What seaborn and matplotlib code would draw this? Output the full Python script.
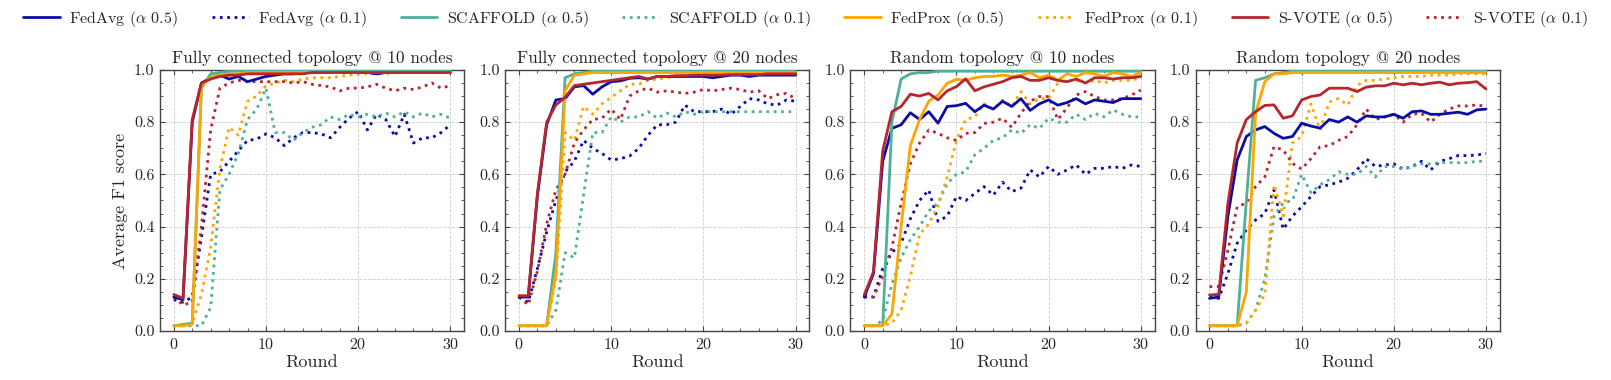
import matplotlib
matplotlib.use("Agg")
import matplotlib.pyplot as plt
from matplotlib.ticker import AutoMinorLocator, MultipleLocator
import seaborn as sns

# ---------------- data ----------------
rounds = list(range(31))

titles = ["Fully connected topology @ 10 nodes", "Fully connected topology @ 20 nodes",
          "Random topology @ 10 nodes", "Random topology @ 20 nodes"]
methods = ["FedAvg", "SCAFFOLD", "FedProx", "S-VOTE"]
alphas = ["0.5", "0.1"]

# Panel 1: fully connected, 10 nodes
fc10_fedavg_05 = [0.13, 0.12, 0.80, 0.95, 0.97, 0.98, 0.965, 0.975, 0.955, 0.965, 0.975, 0.98, 0.985, 0.985, 0.99, 0.99,
                  0.99, 0.99, 0.99, 0.99, 0.99, 0.99, 0.985, 0.99, 0.99, 0.99, 0.99, 0.99, 0.99, 0.99, 0.99]
fc10_fedavg_01 = [0.12, 0.11, 0.13, 0.36, 0.60, 0.61, 0.65, 0.69, 0.73, 0.735, 0.755, 0.74, 0.71, 0.74, 0.76, 0.76,
                  0.755, 0.74, 0.78, 0.815, 0.84, 0.77, 0.83, 0.81, 0.745, 0.83, 0.72, 0.74, 0.74, 0.76, 0.79]
fc10_scaffold_05 = [0.02, 0.025, 0.03, 0.93, 0.985, 0.99, 0.995, 0.995, 0.995, 0.995, 0.995, 0.995, 0.995, 0.995, 0.995, 0.995,
                    0.995, 0.995, 0.995, 0.995, 0.995, 0.995, 0.995, 0.995, 0.995, 0.995, 0.995, 0.995, 0.995, 0.995, 0.995]
fc10_scaffold_01 = [0.02, 0.02, 0.02, 0.02, 0.09, 0.54, 0.60, 0.68, 0.81, 0.85, 0.93, 0.76, 0.76, 0.73, 0.76, 0.78,
                    0.79, 0.82, 0.81, 0.83, 0.82, 0.83, 0.82, 0.835, 0.82, 0.84, 0.82, 0.835, 0.82, 0.83, 0.815]
fc10_fedprox_05 = [0.02, 0.02, 0.025, 0.94, 0.97, 0.98, 0.985, 0.985, 0.99, 0.99, 0.99, 0.99, 0.99, 0.99, 0.99, 0.99,
                   0.99, 0.99, 0.99, 0.99, 0.99, 0.99, 0.99, 0.99, 0.99, 0.99, 0.99, 0.99, 0.99, 0.99, 0.99]
fc10_fedprox_01 = [0.02, 0.02, 0.03, 0.14, 0.32, 0.62, 0.78, 0.75, 0.88, 0.90, 0.94, 0.95, 0.96, 0.955, 0.965, 0.97,
                   0.97, 0.97, 0.975, 0.98, 0.985, 0.985, 0.985, 0.985, 0.99, 0.99, 0.99, 0.99, 0.99, 0.99, 0.99]
fc10_svote_05 = [0.14, 0.125, 0.81, 0.95, 0.965, 0.975, 0.98, 0.98, 0.985, 0.985, 0.985, 0.985, 0.985, 0.985, 0.985, 0.99,
                 0.99, 0.99, 0.99, 0.99, 0.99, 0.99, 0.99, 0.99, 0.99, 0.99, 0.99, 0.99, 0.99, 0.99, 0.99]
fc10_svote_01 = [0.13, 0.10, 0.11, 0.40, 0.77, 0.93, 0.95, 0.96, 0.955, 0.955, 0.955, 0.955, 0.955, 0.95, 0.955, 0.945,
                 0.94, 0.935, 0.92, 0.93, 0.93, 0.935, 0.945, 0.93, 0.92, 0.93, 0.925, 0.935, 0.95, 0.93, 0.94]

# Panel 2: fully connected, 20 nodes
fc20_fedavg_05 = [0.13, 0.13, 0.52, 0.79, 0.885, 0.89, 0.935, 0.94, 0.907, 0.935, 0.955, 0.958, 0.968, 0.97, 0.965, 0.975,
                  0.975, 0.975, 0.975, 0.975, 0.975, 0.97, 0.975, 0.98, 0.98, 0.975, 0.98, 0.98, 0.98, 0.98, 0.98]
fc20_fedavg_01 = [0.13, 0.11, 0.24, 0.38, 0.50, 0.61, 0.65, 0.73, 0.70, 0.68, 0.655, 0.66, 0.67, 0.70, 0.75, 0.79,
                  0.79, 0.80, 0.865, 0.84, 0.84, 0.84, 0.85, 0.83, 0.86, 0.89, 0.885, 0.87, 0.865, 0.885, 0.88]
fc20_scaffold_05 = [0.02, 0.02, 0.02, 0.02, 0.30, 0.97, 0.985, 0.99, 0.995, 0.995, 0.995, 0.995, 0.995, 0.995, 0.995, 0.995,
                    0.995, 0.995, 0.995, 0.995, 0.995, 0.995, 0.995, 0.995, 0.995, 0.995, 0.995, 0.995, 0.995, 0.995, 0.995]
fc20_scaffold_01 = [0.02, 0.02, 0.02, 0.02, 0.08, 0.30, 0.28, 0.52, 0.76, 0.76, 0.82, 0.80, 0.82, 0.82, 0.84, 0.815,
                    0.835, 0.82, 0.84, 0.83, 0.84, 0.84, 0.84, 0.84, 0.84, 0.84, 0.84, 0.84, 0.84, 0.84, 0.84]
fc20_fedprox_05 = [0.02, 0.02, 0.02, 0.02, 0.22, 0.92, 0.98, 0.985, 0.99, 0.99, 0.99, 0.99, 0.99, 0.99, 0.99, 0.99,
                   0.99, 0.99, 0.99, 0.99, 0.99, 0.99, 0.99, 0.99, 0.99, 0.99, 0.99, 0.99, 0.99, 0.99, 0.99]
fc20_fedprox_01 = [0.02, 0.02, 0.02, 0.02, 0.20, 0.76, 0.73, 0.86, 0.83, 0.87, 0.895, 0.92, 0.945, 0.945, 0.96, 0.965,
                   0.97, 0.975, 0.98, 0.98, 0.98, 0.985, 0.985, 0.985, 0.985, 0.985, 0.985, 0.985, 0.985, 0.985, 0.985]
fc20_svote_05 = [0.135, 0.135, 0.53, 0.80, 0.866, 0.895, 0.94, 0.945, 0.95, 0.955, 0.96, 0.965, 0.97, 0.975, 0.965, 0.975,
                 0.975, 0.978, 0.978, 0.98, 0.98, 0.98, 0.98, 0.982, 0.982, 0.982, 0.982, 0.985, 0.985, 0.985, 0.985]
fc20_svote_01 = [0.13, 0.10, 0.23, 0.41, 0.54, 0.60, 0.72, 0.77, 0.81, 0.815, 0.85, 0.81, 0.90, 0.92, 0.93, 0.915,
                 0.92, 0.915, 0.91, 0.915, 0.925, 0.92, 0.925, 0.93, 0.925, 0.915, 0.92, 0.89, 0.905, 0.91, 0.89]

# Panel 3: random topology, 10 nodes
rnd10_fedavg_05 = [0.13, 0.22, 0.65, 0.776, 0.79, 0.836, 0.81, 0.84, 0.796, 0.86, 0.863, 0.872, 0.84, 0.865, 0.85, 0.88,
                   0.86, 0.89, 0.845, 0.87, 0.885, 0.865, 0.875, 0.89, 0.87, 0.885, 0.88, 0.875, 0.89, 0.89, 0.89]
rnd10_fedavg_01 = [0.13, 0.13, 0.24, 0.30, 0.336, 0.43, 0.50, 0.54, 0.42, 0.44, 0.515, 0.50, 0.527, 0.553, 0.52, 0.57,
                   0.534, 0.547, 0.617, 0.59, 0.63, 0.60, 0.617, 0.636, 0.60, 0.623, 0.623, 0.63, 0.623, 0.636, 0.63]
rnd10_scaffold_05 = [0.02, 0.02, 0.02, 0.80, 0.965, 0.985, 0.99, 0.99, 0.995, 0.995, 0.995, 0.995, 0.995, 0.995, 0.995, 0.995,
                     0.995, 0.995, 0.995, 0.995, 0.995, 0.995, 0.995, 0.995, 0.995, 0.995, 0.995, 0.995, 0.995, 0.995, 0.995]
rnd10_scaffold_01 = [0.02, 0.02, 0.04, 0.18, 0.28, 0.35, 0.40, 0.46, 0.49, 0.565, 0.60, 0.61, 0.675, 0.70, 0.73, 0.74,
                     0.77, 0.757, 0.79, 0.776, 0.815, 0.80, 0.80, 0.83, 0.81, 0.834, 0.82, 0.847, 0.83, 0.82, 0.82]
rnd10_fedprox_05 = [0.02, 0.02, 0.02, 0.065, 0.40, 0.71, 0.81, 0.88, 0.904, 0.949, 0.964, 0.96, 0.97, 0.975, 0.975, 0.98,
                    0.975, 0.98, 0.99, 0.97, 0.98, 0.96, 0.985, 0.975, 0.99, 0.985, 0.975, 0.99, 0.985, 0.975, 0.99]
rnd10_fedprox_01 = [0.02, 0.02, 0.02, 0.03, 0.08, 0.21, 0.37, 0.41, 0.48, 0.59, 0.73, 0.81, 0.82, 0.87, 0.85, 0.885,
                    0.86, 0.917, 0.87, 0.89, 0.89, 0.95, 0.96, 0.96, 0.95, 0.96, 0.95, 0.96, 0.96, 0.96, 0.97]
rnd10_svote_05 = [0.138, 0.227, 0.69, 0.84, 0.86, 0.907, 0.90, 0.91, 0.885, 0.92, 0.936, 0.966, 0.92, 0.935, 0.945, 0.955,
                  0.97, 0.975, 0.96, 0.96, 0.97, 0.96, 0.955, 0.965, 0.95, 0.97, 0.97, 0.965, 0.97, 0.97, 0.975]
rnd10_svote_01 = [0.138, 0.13, 0.21, 0.32, 0.49, 0.64, 0.72, 0.77, 0.757, 0.74, 0.73, 0.757, 0.76, 0.795, 0.80, 0.815,
                  0.78, 0.834, 0.88, 0.898, 0.898, 0.81, 0.855, 0.904, 0.917, 0.898, 0.885, 0.885, 0.89, 0.904, 0.923]

# Panel 4: random topology, 20 nodes
rnd20_fedavg_05 = [0.125, 0.13, 0.44, 0.655, 0.745, 0.77, 0.783, 0.757, 0.738, 0.745, 0.796, 0.785, 0.777, 0.81, 0.80, 0.82,
                   0.80, 0.824, 0.82, 0.82, 0.83, 0.815, 0.84, 0.843, 0.83, 0.83, 0.834, 0.838, 0.83, 0.847, 0.85]
rnd20_fedavg_01 = [0.13, 0.125, 0.22, 0.336, 0.387, 0.425, 0.45, 0.54, 0.39, 0.44, 0.476, 0.515, 0.553, 0.56, 0.57, 0.585,
                   0.617, 0.66, 0.63, 0.636, 0.64, 0.62, 0.63, 0.65, 0.617, 0.65, 0.66, 0.672, 0.672, 0.674, 0.68]
rnd20_scaffold_05 = [0.02, 0.02, 0.02, 0.02, 0.50, 0.96, 0.97, 0.985, 0.99, 0.995, 0.995, 0.995, 0.995, 0.995, 0.995, 0.995,
                     0.995, 0.995, 0.995, 0.995, 0.995, 0.995, 0.995, 0.995, 0.995, 0.995, 0.995, 0.995, 0.995, 0.995, 0.995]
rnd20_scaffold_01 = [0.02, 0.02, 0.02, 0.02, 0.03, 0.08, 0.20, 0.44, 0.49, 0.50, 0.60, 0.53, 0.56, 0.58, 0.61, 0.60,
                     0.60, 0.63, 0.59, 0.63, 0.63, 0.62, 0.63, 0.64, 0.64, 0.645, 0.645, 0.645, 0.645, 0.65, 0.65]
rnd20_fedprox_05 = [0.02, 0.02, 0.02, 0.02, 0.15, 0.834, 0.955, 0.985, 0.985, 0.99, 0.99, 0.99, 0.99, 0.99, 0.99, 0.99,
                    0.99, 0.99, 0.99, 0.99, 0.99, 0.99, 0.99, 0.99, 0.99, 0.99, 0.99, 0.99, 0.99, 0.99, 0.99]
rnd20_fedprox_01 = [0.02, 0.02, 0.02, 0.02, 0.03, 0.08, 0.14, 0.56, 0.44, 0.72, 0.745, 0.87, 0.77, 0.877, 0.89, 0.865,
                    0.94, 0.96, 0.96, 0.965, 0.97, 0.975, 0.975, 0.975, 0.98, 0.98, 0.98, 0.985, 0.985, 0.985, 0.985]
rnd20_svote_05 = [0.138, 0.14, 0.49, 0.72, 0.81, 0.84, 0.864, 0.866, 0.815, 0.824, 0.885, 0.898, 0.904, 0.93, 0.93, 0.93,
                  0.917, 0.934, 0.939, 0.939, 0.949, 0.943, 0.949, 0.943, 0.949, 0.953, 0.943, 0.949, 0.951, 0.955, 0.927]
rnd20_svote_01 = [0.17, 0.17, 0.31, 0.476, 0.49, 0.553, 0.59, 0.706, 0.693, 0.642, 0.62, 0.66, 0.706, 0.71, 0.73, 0.745,
                  0.79, 0.85, 0.81, 0.82, 0.83, 0.80, 0.83, 0.834, 0.80, 0.83, 0.85, 0.862, 0.862, 0.866, 0.86]

panels = [
    [fc10_fedavg_05, fc10_fedavg_01, fc10_scaffold_05, fc10_scaffold_01,
     fc10_fedprox_05, fc10_fedprox_01, fc10_svote_05, fc10_svote_01],
    [fc20_fedavg_05, fc20_fedavg_01, fc20_scaffold_05, fc20_scaffold_01,
     fc20_fedprox_05, fc20_fedprox_01, fc20_svote_05, fc20_svote_01],
    [rnd10_fedavg_05, rnd10_fedavg_01, rnd10_scaffold_05, rnd10_scaffold_01,
     rnd10_fedprox_05, rnd10_fedprox_01, rnd10_svote_05, rnd10_svote_01],
    [rnd20_fedavg_05, rnd20_fedavg_01, rnd20_scaffold_05, rnd20_scaffold_01,
     rnd20_fedprox_05, rnd20_fedprox_01, rnd20_svote_05, rnd20_svote_01],
]

colors = {"FedAvg": "#0b0ba8", "SCAFFOLD": "#4faf99", "FedProx": "#ffa500", "S-VOTE": "#b5262f"}
styles = {"0.5": "-", "0.1": ":"}

# ---------------- style ----------------
sns.set_theme(style="ticks")
plt.rcParams["font.family"] = ["cmr10", "DejaVu Serif"]
plt.rcParams["mathtext.fontset"] = "cm"
plt.rcParams["axes.formatter.use_mathtext"] = True
plt.rcParams["axes.unicode_minus"] = False

fig, axes = plt.subplots(1, 4, figsize=(16.11, 3.80), dpi=100)
fig.subplots_adjust(left=0.0993, right=0.931, top=0.816, bottom=0.129, wspace=0.135)

for p, ax in enumerate(axes):
    series = panels[p]
    k = 0
    for m in methods:
        for a in alphas:
            sns.lineplot(x=rounds, y=series[k], ax=ax, color=colors[m], linestyle=styles[a],
                         linewidth=2.0, label=f"{m} ($\\alpha$ {a})", legend=False,
                         zorder=3 if a == "0.5" else 2)
            k += 1
    ax.set_xlim(-1.5, 31.5)
    ax.set_ylim(0, 1)
    ax.xaxis.set_major_locator(MultipleLocator(10))
    ax.yaxis.set_major_locator(MultipleLocator(0.2))
    ax.xaxis.set_minor_locator(AutoMinorLocator(5))
    ax.yaxis.set_minor_locator(AutoMinorLocator(4))
    ax.yaxis.set_major_formatter(matplotlib.ticker.FormatStrFormatter("%.1f"))
    ax.tick_params(which="both", direction="in", top=True, right=True, labelsize=11.5,
                   color="#444444", pad=4)
    ax.tick_params(which="major", length=3.5, width=0.8)
    ax.tick_params(which="minor", length=2, width=0.6)
    ax.grid(True, which="major", linestyle="--", color="#cccccc", linewidth=0.6)
    for s in ax.spines.values():
        s.set_color("#444444")
        s.set_linewidth(1.0)
    ax.set_title(titles[p], fontsize=12.4, pad=5)
    ax.set_xlabel("Round", fontsize=13, labelpad=2)
    ax.set_ylabel("Average F1 score" if p == 0 else "", fontsize=13)

handles, labels = axes[0].get_legend_handles_labels()
fig.legend(handles, labels, loc="upper center", bbox_to_anchor=(0.5, 1.015), ncol=8, frameon=False,
           fontsize=11.5, handlelength=2.3, handletextpad=0.6, columnspacing=2.1)

fig.savefig("out.png", dpi=100)
